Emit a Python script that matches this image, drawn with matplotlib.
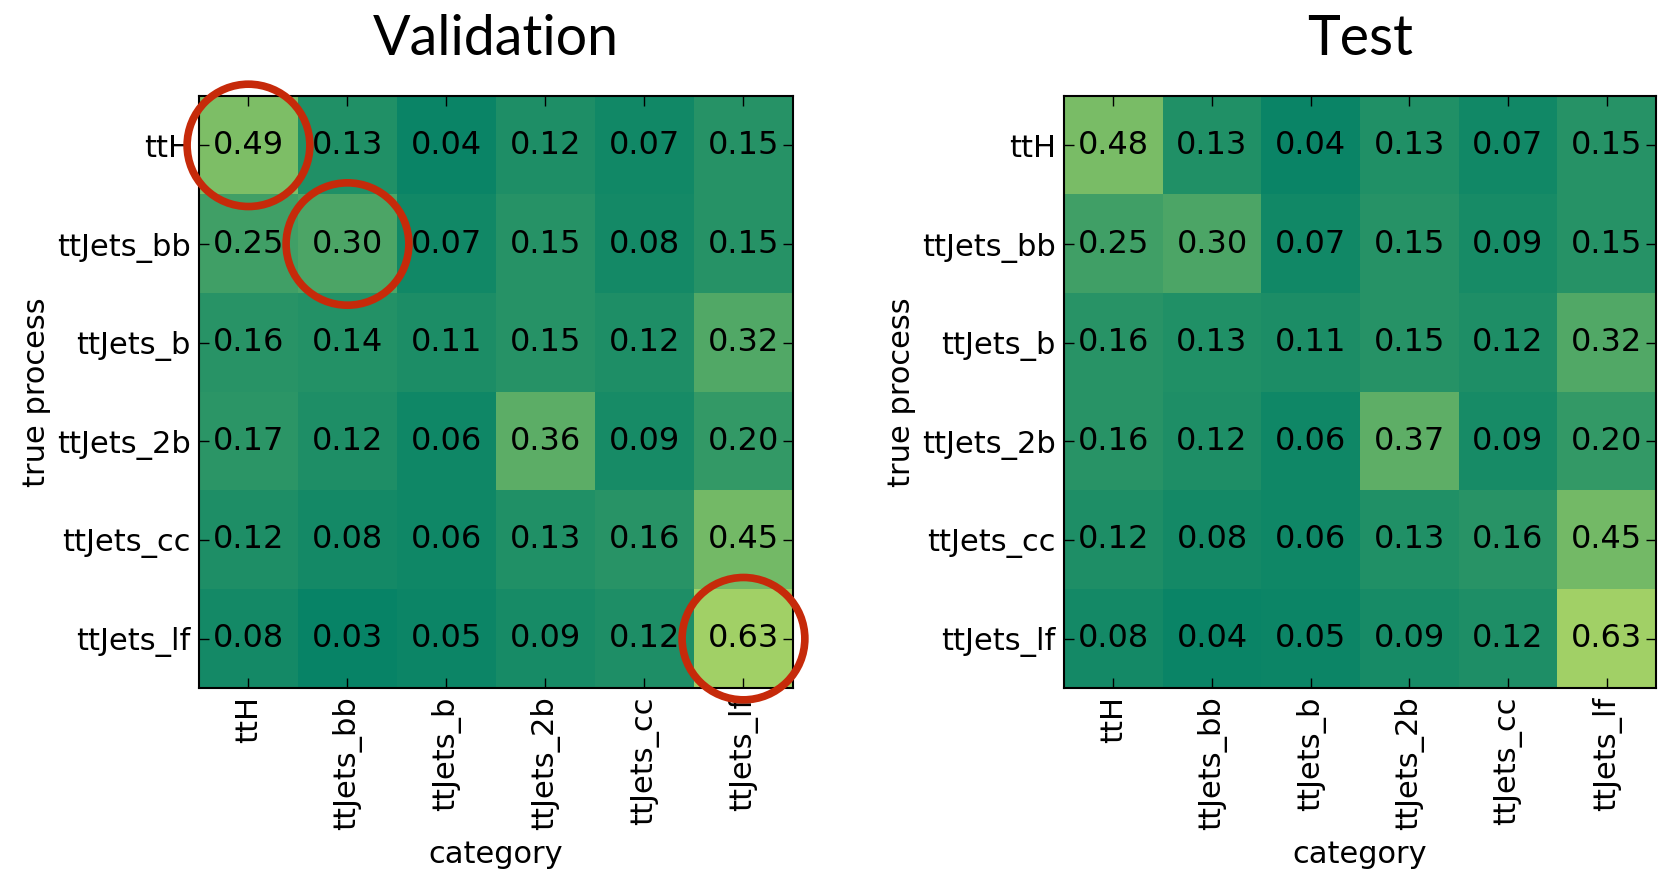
import numpy as np
import matplotlib
matplotlib.use('Agg')
import matplotlib.pyplot as plt
from matplotlib.patches import Circle

# Normalised confusion matrices (rows: true process, columns: predicted category)
processes = ['ttH', 'ttJets_bb', 'ttJets_b', 'ttJets_2b', 'ttJets_cc', 'ttJets_lf']

val_matrix = [
    [0.49, 0.13, 0.04, 0.12, 0.07, 0.15],
    [0.25, 0.30, 0.07, 0.15, 0.08, 0.15],
    [0.16, 0.14, 0.11, 0.15, 0.12, 0.32],
    [0.17, 0.12, 0.06, 0.36, 0.09, 0.20],
    [0.12, 0.08, 0.06, 0.13, 0.16, 0.45],
    [0.08, 0.03, 0.05, 0.09, 0.12, 0.63],
]

test_matrix = [
    [0.48, 0.13, 0.04, 0.13, 0.07, 0.15],
    [0.25, 0.30, 0.07, 0.15, 0.09, 0.15],
    [0.16, 0.13, 0.11, 0.15, 0.12, 0.32],
    [0.16, 0.12, 0.06, 0.37, 0.09, 0.20],
    [0.12, 0.08, 0.06, 0.13, 0.16, 0.45],
    [0.08, 0.04, 0.05, 0.09, 0.12, 0.63],
]

# cells to highlight on the validation matrix (row, col)
highlight = [(0, 0), (1, 1), (5, 5)]

plt.rcParams['font.family'] = 'DejaVu Sans'
plt.rcParams['xtick.direction'] = 'in'
plt.rcParams['ytick.direction'] = 'in'
plt.rcParams['xtick.top'] = True
plt.rcParams['ytick.right'] = True

fig = plt.figure(figsize=(16.68, 8.69), dpi=100)
ax_val = fig.add_axes([0.1193, 0.2083, 0.3561, 0.6812])
ax_test = fig.add_axes([0.6379, 0.2083, 0.3549, 0.6812])


def draw_matrix(ax, matrix, title):
    m = np.array(matrix)
    ax.imshow(m, cmap='summer', vmin=0, vmax=1, interpolation='nearest', aspect='auto')
    for i in range(m.shape[0]):
        for j in range(m.shape[1]):
            ax.text(j, i, '%.2f' % m[i, j], ha='center', va='center', fontsize=23)
    ax.set_xticks(range(len(processes)))
    ax.set_yticks(range(len(processes)))
    ax.set_xticklabels(processes, rotation=90, fontsize=22)
    ax.set_yticklabels(processes, fontsize=22)
    ax.tick_params(length=7, width=1, pad=6)
    ax.set_xlabel('category', fontsize=22, labelpad=7)
    ax.set_ylabel('true process', fontsize=22, labelpad=4)
    for s in ax.spines.values():
        s.set_linewidth(1.5)
    pos = ax.get_position()
    fig.text((pos.x0 + pos.x1) / 2, 0.9367, title, ha='center', va='baseline',
             fontsize=40, family=['Lato', 'DejaVu Sans'])


draw_matrix(ax_val, val_matrix, 'Validation')
draw_matrix(ax_test, test_matrix, 'Test')

for r, c in highlight:
    ax_val.add_patch(Circle((c, r), 0.62, fill=False, edgecolor='#c62a0a',
                            linewidth=5.5, clip_on=False, zorder=5))

fig.savefig('out.png', dpi=100)
